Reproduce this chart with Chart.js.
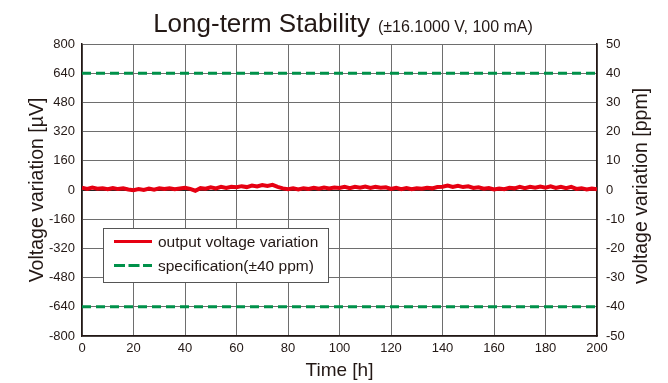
<!DOCTYPE html>
<html>
<head>
<meta charset="utf-8">
<script src="https://cdn.jsdelivr.net/npm/chart.js@4"></script>
<style>
  body { margin: 0; background: #fff; }
  canvas { display: block; }
</style>
</head>
<body>
<canvas id="stabilityChart" width="668" height="383"></canvas>
<script>
// measured output drift, 2 h steps
const hours = [
  0, 2, 4, 6, 8, 10, 12, 14, 16, 18,
  20, 22, 24, 26, 28, 30, 32, 34, 36, 38,
  40, 42, 44, 46, 48, 50, 52, 54, 56, 58,
  60, 62, 64, 66, 68, 70, 72, 74, 76, 78,
  80, 82, 84, 86, 88, 90, 92, 94, 96, 98,
  100, 102, 104, 106, 108, 110, 112, 114, 116, 118,
  120, 122, 124, 126, 128, 130, 132, 134, 136, 138,
  140, 142, 144, 146, 148, 150, 152, 154, 156, 158,
  160, 162, 164, 166, 168, 170, 172, 174, 176, 178,
  180, 182, 184, 186, 188, 190, 192, 194, 196, 198,
  200
];
const outputVariation = [
  12, 6, 13, 7, 10, 4, 11, 5, 9, 3,
  -1, 5, 0, 8, 2, 9, 5, 10, 4, 8,
  12, 6, -4, 10, 7, 15, 9, 17, 11, 18,
  15, 21, 16, 24, 19, 27, 22, 28, 17, 9,
  4, 9, 3, 10, 6, 12, 7, 14, 9, 13,
  11, 17, 10, 18, 12, 19, 11, 17, 13, 15,
  6, 12, 5, 11, 4, 10, 7, 12, 9, 16,
  18, 24, 17, 23, 16, 20, 11, 15, 7, 11,
  3, 8, 4, 12, 9, 17, 10, 18, 12, 19,
  13, 20, 11, 18, 10, 17, 6, 10, 3, 8,
  4
];
const specTimes = [0, 200];
const specUpper = [640, 640];
const specLower = [-640, -640];

const RED = '#e60012';
const GREEN = '#00914a';
const INK = '#231815';
const FONT = "'Liberation Sans', Arial, sans-serif";

// title and right axis caption
const decorPlugin = {
  id: 'decor',
  afterDraw(chart) {
    const ctx = chart.ctx;
    ctx.save();
    ctx.fillStyle = INK;
    ctx.textBaseline = 'alphabetic';
    ctx.textAlign = 'left';
    const main = 'Long-term Stability';
    const sub = '(±16.1000 V, 100 mA)';
    ctx.font = '26px ' + FONT;
    const w1 = ctx.measureText(main).width;
    ctx.font = '16px ' + FONT;
    const w2 = ctx.measureText(sub).width;
    const gap = 8;
    const x0 = 343 - (w1 + gap + w2) / 2;
    ctx.font = '26px ' + FONT;
    ctx.fillText(main, x0, 32);
    ctx.font = '16px ' + FONT;
    ctx.fillText(sub, x0 + w1 + gap, 32);

    // right axis title reads bottom to top
    ctx.translate(642, 186);
    ctx.rotate(-Math.PI / 2);
    ctx.textAlign = 'center';
    ctx.textBaseline = 'middle';
    ctx.font = '19.5px ' + FONT;
    ctx.fillText('voltage variation [ppm]', 0, 0);
    ctx.restore();
  }
};

// legend box inside the plot
const legendPlugin = {
  id: 'boxLegend',
  afterDatasetsDraw(chart) {
    const ctx = chart.ctx;
    const sets = chart.data.datasets;
    ctx.save();
    ctx.fillStyle = '#fff';
    ctx.fillRect(103, 228, 226, 54);
    ctx.strokeStyle = '#555';
    ctx.lineWidth = 1;
    ctx.strokeRect(103.5, 228.5, 225, 54);

    const rows = [
      { ds: sets[0], y: 241.5, dash: [] },
      { ds: sets[1], y: 265.5, dash: [11, 3.5] }
    ];
    ctx.font = '15.5px ' + FONT;
    ctx.textBaseline = 'alphabetic';
    ctx.textAlign = 'left';
    rows.forEach(r => {
      ctx.strokeStyle = r.ds.borderColor;
      ctx.lineWidth = 3;
      ctx.setLineDash(r.dash);
      ctx.beginPath();
      ctx.moveTo(114, r.y);
      ctx.lineTo(152, r.y);
      ctx.stroke();
      ctx.setLineDash([]);
      ctx.fillStyle = INK;
      ctx.fillText(r.ds.label, 158, r.y + 5.5);
    });
    ctx.restore();
  }
};

const ctx = document.getElementById('stabilityChart').getContext('2d');
new Chart(ctx, {
  type: 'line',
  data: {
    datasets: [
      {
        label: 'output voltage variation',
        data: hours.map((h, i) => ({ x: h, y: outputVariation[i] })),
        borderColor: RED,
        borderWidth: 4,
        pointRadius: 0,
        tension: 0,
        yAxisID: 'y'
      },
      {
        label: 'specification(±40 ppm)',
        data: specTimes.map((h, i) => ({ x: h, y: specUpper[i] })),
        borderColor: GREEN,
        borderWidth: 3,
        borderDash: [9, 5],
        pointRadius: 0,
        yAxisID: 'y'
      },
      {
        label: 'specification lower',
        data: specTimes.map((h, i) => ({ x: h, y: specLower[i] })),
        borderColor: GREEN,
        borderWidth: 3,
        borderDash: [9, 5],
        pointRadius: 0,
        yAxisID: 'y'
      }
    ]
  },
  options: {
    responsive: false,
    animation: false,
    layout: { padding: { top: 44, left: 0, right: 0, bottom: 0 } },
    plugins: {
      legend: { display: false },
      tooltip: { enabled: false }
    },
    scales: {
      x: {
        type: 'linear',
        min: 0,
        max: 200,
        afterFit: s => { s.height = 47; },
        grid: { color: '#6e6e6e', lineWidth: 1, drawTicks: false },
        border: { color: INK, width: 1.5 },
        ticks: { stepSize: 20, padding: 5, color: INK, font: { family: FONT, size: 13 } },
        title: {
          display: true,
          text: 'Time [h]',
          color: INK,
          font: { family: FONT, size: 19 },
          padding: { top: 0, bottom: 1 }
        }
      },
      y: {
        position: 'left',
        min: -800,
        max: 800,
        afterFit: s => { s.width = 82; },
        grid: {
          color: c => (c.tick && c.tick.value === 0 ? '#222' : '#6e6e6e'),
          lineWidth: 1,
          drawTicks: false
        },
        border: { color: INK, width: 1.5 },
        ticks: { stepSize: 160, padding: 7, color: INK, font: { family: FONT, size: 13 } },
        title: {
          display: true,
          text: 'Voltage variation [µV]',
          color: INK,
          font: { family: FONT, size: 19.5 },
          padding: { top: 26, bottom: 0 }
        }
      },
      y2: {
        position: 'right',
        min: -50,
        max: 50,
        afterFit: s => { s.width = 71; },
        grid: { drawOnChartArea: false, drawTicks: false },
        border: { color: INK, width: 1.5 },
        ticks: { stepSize: 10, padding: 9, color: INK, font: { family: FONT, size: 13 } }
      }
    }
  },
  plugins: [decorPlugin, legendPlugin]
});
</script>
</body>
</html>
